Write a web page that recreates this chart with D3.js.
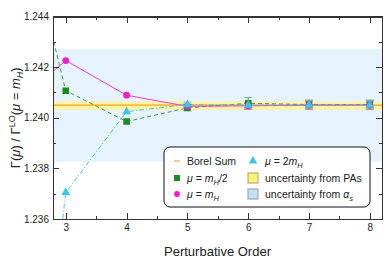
<!DOCTYPE html>
<head>
<meta charset="utf-8">
<style>
body { margin: 0; background: #fff; }
text { font-family: "Liberation Sans", Arial, sans-serif; fill: #222; }
.axis path, .axis line { stroke: #333; shape-rendering: crispEdges; }
</style>
<script src="https://cdn.jsdelivr.net/npm/d3@7"></script>
</head>
<body>
<script>
// perturbative orders (order 2 sits outside the frame and only shows as line stubs)
var orders = [2, 3, 4, 5, 6, 7, 8];
var halfMH   = [1.2508, 1.24107, 1.23985, 1.24039, 1.24057, 1.24052, 1.24052];
var halfErr  = [0, 0, 0, 0.00012, 0.00023, 0.00018, 0.00018];
var atMH     = [1.2402, 1.24226, 1.24089, 1.24045, 1.24047, 1.24050, 1.24050];
var atErr    = [0, 0, 0, 0.0001, 0.00013, 0.00018, 0.00018];
var twoMH    = [1.2160, 1.23705, 1.24024, 1.24052, 1.24050, 1.24050, 1.24050];
var twoErr   = [0, 0, 0, 0.0001, 0.0001, 0.00012, 0.00012];
var borel = 1.2405, borelPA = [1.24031, 1.24064], borelAs = [1.23826, 1.24272];
var xTicks = [3, 4, 5, 6, 7, 8];
var yTicks = [1.236, 1.238, 1.240, 1.242, 1.244];

var W = 387, H = 260;
var margin = {top: 16.5, right: 5, bottom: 41, left: 53};

var x = d3.scaleLinear().domain([2.79, 8.2]).range([margin.left, W - margin.right]);
var y = d3.scaleLinear().domain([1.236, 1.244]).range([H - margin.bottom, margin.top]);

var svg = d3.select("body").append("svg")
    .attr("width", W).attr("height", H);

svg.append("defs").append("clipPath").attr("id", "clip")
  .append("rect")
    .attr("x", x.range()[0]).attr("y", y.range()[1])
    .attr("width", x.range()[1] - x.range()[0])
    .attr("height", y.range()[0] - y.range()[1]);

var plot = svg.append("g").attr("clip-path", "url(#clip)");

// alpha_s band
plot.append("rect")
    .attr("x", x.range()[0]).attr("width", x.range()[1] - x.range()[0])
    .attr("y", y(borelAs[1])).attr("height", y(borelAs[0]) - y(borelAs[1]))
    .attr("fill", "#e6f3fd");
// PA band
plot.append("rect")
    .attr("x", x.range()[0]).attr("width", x.range()[1] - x.range()[0])
    .attr("y", y(borelPA[1])).attr("height", y(borelPA[0]) - y(borelPA[1]))
    .attr("fill", "#fff3a6");
plot.append("line")
    .attr("x1", x.range()[0]).attr("x2", x.range()[1])
    .attr("y1", y(borel)).attr("y2", y(borel))
    .attr("stroke", "#f5a020").attr("stroke-width", 1.3);

var series = [
  {vals: halfMH, err: halfErr, line: "#3f9a5c", mark: "#1a8a22", dash: "4,3", shape: d3.symbolSquare, size: 42, bar: "rgba(26,138,34,0.55)"},
  {vals: atMH, err: atErr, line: "#f03cd2", mark: "#f01ccf", dash: null, shape: d3.symbolCircle, size: 36, bar: "rgba(200,120,220,0.55)"},
  {vals: twoMH, err: twoErr, line: "#45c8e8", mark: "#3cc6ea", dash: "5,2,1,2", shape: d3.symbolTriangle, size: 34, bar: "rgba(120,150,170,0.55)"}
];

var line = d3.line()
    .x(function(d, i) { return x(orders[i]); })
    .y(function(d) { return y(d); });

series.forEach(function(s) {
  plot.append("path")
      .attr("d", line(s.vals))
      .attr("fill", "none")
      .attr("stroke", s.line)
      .attr("stroke-width", 1)
      .attr("stroke-dasharray", s.dash);
});

series.forEach(function(s) {
  s.vals.forEach(function(v, i) {
    if (!s.err[i]) return;
    var cx = x(orders[i]);
    var g = plot.append("g").attr("stroke", s.bar).attr("stroke-width", 1.2);
    g.append("line").attr("x1", cx).attr("x2", cx).attr("y1", y(v - s.err[i])).attr("y2", y(v + s.err[i]));
    g.append("line").attr("x1", cx - 4).attr("x2", cx + 4).attr("y1", y(v - s.err[i])).attr("y2", y(v - s.err[i]));
    g.append("line").attr("x1", cx - 4).attr("x2", cx + 4).attr("y1", y(v + s.err[i])).attr("y2", y(v + s.err[i]));
  });
});

series.forEach(function(s) {
  plot.selectAll(null)
      .data(s.vals)
    .enter().append("path")
      .attr("d", d3.symbol().type(s.shape).size(s.size))
      .attr("transform", function(d, i) { return "translate(" + x(orders[i]) + "," + y(d) + ")"; })
      .attr("fill", s.mark);
});

// axes, ticks pointing inwards on all four sides
var xMinor = d3.range(3.5, 8.5, 1);
var yMinor = [1.237, 1.239, 1.241, 1.243];

function frame(axis, scale, ticks, size, pos, labels) {
  var g = svg.append("g").attr("class", "axis")
      .attr("transform", pos)
      .call(axis(scale).tickValues(ticks).tickSize(-size).tickPadding(labels ? 4 : 0)
        .tickFormat(labels ? labels : function() { return ""; }));
  return g;
}
var bx = "translate(0," + y.range()[0] + ")", tx = "translate(0," + y.range()[1] + ")";
var ly = "translate(" + x.range()[0] + ",0)", ry = "translate(" + x.range()[1] + ",0)";

var gx = frame(d3.axisBottom, x, xTicks, 6, bx, d3.format("d"));
gx.selectAll("text").attr("font-size", 10).attr("dy", "0.2em")
  .attr("y", 10).attr("font-family", "Liberation Sans, Arial, sans-serif");
frame(d3.axisBottom, x, xMinor, 3, bx, null);
frame(d3.axisTop, x, xTicks, 6, tx, null);
frame(d3.axisTop, x, xMinor, 3, tx, null);

var gy = frame(d3.axisLeft, y, yTicks, 6, ly, d3.format(".3f"));
gy.selectAll("text").attr("font-size", 10).attr("x", -4)
  .attr("font-family", "Liberation Sans, Arial, sans-serif");
frame(d3.axisLeft, y, yMinor, 3, ly, null);
frame(d3.axisRight, y, yTicks, 6, ry, null);
frame(d3.axisRight, y, yMinor, 3, ry, null);
svg.selectAll(".axis path").attr("stroke-width", 1.2);

// axis titles
svg.append("text")
    .attr("x", (x.range()[0] + x.range()[1]) / 2).attr("y", 256)
    .attr("text-anchor", "middle").attr("font-size", 13)
    .text("Perturbative Order");

var yt = svg.append("text")
    .attr("transform", "translate(20," + (y.range()[0] + y.range()[1]) / 2 + ") rotate(-90)")
    .attr("text-anchor", "middle").attr("font-size", 13);
yt.append("tspan").text("Γ(");
yt.append("tspan").attr("font-style", "italic").text("μ");
yt.append("tspan").text(") / Γ");
yt.append("tspan").attr("font-size", 9).attr("dy", -5).text("LO");
yt.append("tspan").attr("dy", 5).text("(");
yt.append("tspan").attr("font-style", "italic").text("μ");
yt.append("tspan").text(" = ");
yt.append("tspan").attr("font-style", "italic").text("m");
yt.append("tspan").attr("font-style", "italic").attr("font-size", 9).attr("dy", 3).text("H");
yt.append("tspan").attr("dy", -3).text(")");

// legend
var lg = svg.append("g");
lg.append("rect")
    .attr("x", 164).attr("y", 147).attr("width", 206).attr("height", 60)
    .attr("rx", 6).attr("fill", "#fff").attr("stroke", "#111").attr("stroke-width", 1);

// parts: [text, italic, subscript]
function mathLabel(g, px, py, parts) {
  var t = g.append("text").attr("x", px).attr("y", py).attr("font-size", 10.5).attr("dy", "0.35em");
  var shift = 0;
  parts.forEach(function(p) {
    var s = t.append("tspan").text(p[0]);
    if (p[1]) s.attr("font-style", "italic");
    var want = p[2] ? 3 : 0;
    if (want !== shift) { s.attr("dy", want - shift); shift = want; }
    if (p[2]) s.attr("font-size", 7.5);
  });
}
var rows = [161, 178, 194], c1 = 177, c2 = 253;

lg.append("line").attr("x1", c1 - 3).attr("x2", c1 + 3).attr("y1", rows[0]).attr("y2", rows[0])
    .attr("stroke", "#f7c060").attr("stroke-width", 1.5);
mathLabel(lg, 187, rows[0], [["Borel Sum"]]);

lg.append("path").attr("d", d3.symbol().type(d3.symbolSquare).size(36)())
    .attr("transform", "translate(" + c1 + "," + rows[1] + ")").attr("fill", "#1a8a22");
mathLabel(lg, 187, rows[1], [["μ", 1], [" = "], ["m", 1], ["H", 1, 1], ["/2"]]);

lg.append("path").attr("d", d3.symbol().type(d3.symbolCircle).size(26)())
    .attr("transform", "translate(" + c1 + "," + rows[2] + ")").attr("fill", "#f01ccf");
mathLabel(lg, 187, rows[2], [["μ", 1], [" = "], ["m", 1], ["H", 1, 1]]);

lg.append("path").attr("d", d3.symbol().type(d3.symbolTriangle).size(32)())
    .attr("transform", "translate(" + c2 + "," + rows[0] + ")").attr("fill", "#3cc6ea");
mathLabel(lg, 265, rows[0], [["μ", 1], [" = 2"], ["m", 1], ["H", 1, 1]]);

lg.append("rect").attr("x", c2 - 5).attr("y", rows[1] - 5).attr("width", 10).attr("height", 10)
    .attr("fill", "#fff07a").attr("stroke", "#b8b070").attr("stroke-width", 1.2);
mathLabel(lg, 265, rows[1], [["uncertainty from PAs"]]);

lg.append("rect").attr("x", c2 - 5).attr("y", rows[2] - 5).attr("width", 10).attr("height", 10)
    .attr("fill", "#bfe0f8").attr("stroke", "#a0a8b0").attr("stroke-width", 1.2);
mathLabel(lg, 265, rows[2], [["uncertainty from "], ["α", 1], ["s", 1, 1]]);
</script>
</body>
